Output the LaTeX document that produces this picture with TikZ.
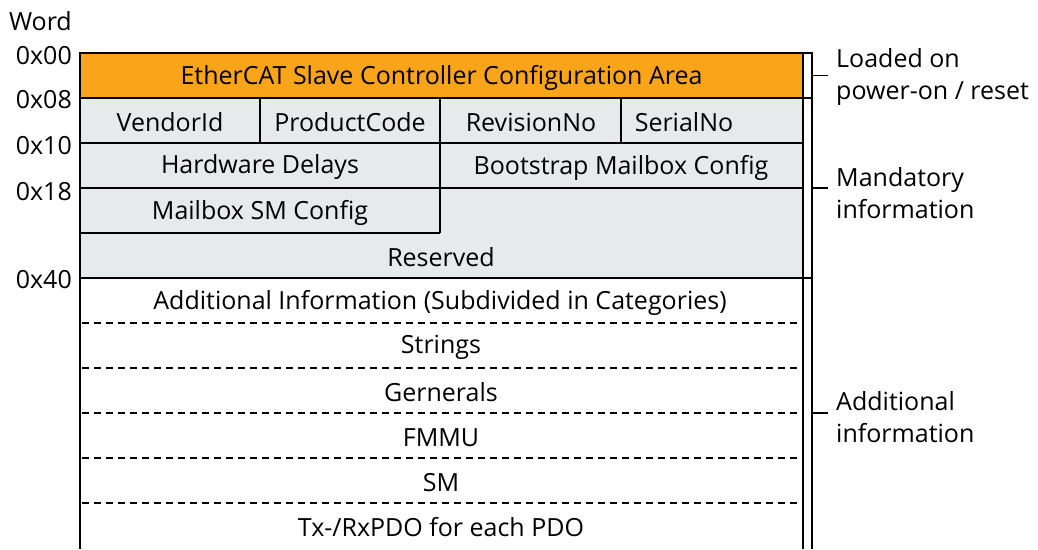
\documentclass[tikz,border=0pt]{standalone}
\usepackage{fontspec}
\setmainfont{Open Sans}
\definecolor{escorange}{RGB}{250,165,25}
\definecolor{mandgray}{RGB}{230,234,234}
\tikzset{
	lbl/.style={font=\fontsize{25}{32}\selectfont, inner sep=0pt, yshift=-2pt},
	addr/.style={lbl, anchor=east},
	side/.style={lbl, anchor=west, align=left},
	frame/.style={line width=1.6pt},
	sep/.style={line width=1.4pt, dash pattern=on 7pt off 5pt}
}
\begin{document}
\begin{tikzpicture}[x=1pt,y=-1pt]
	\useasboundingbox (0,0) rectangle (1038,549);
	
	\fill[escorange] (80,53) rectangle (803,98);
	\fill[mandgray] (80,98) rectangle (803,278);
	\draw[frame] (80,549) -- (80,53) -- (803,53) -- (803,549);
	\foreach \y in {98,143,188,278} \draw[frame] (80,\y) -- (803,\y);
	\draw[frame] (80,233) -- (440,233);
	\draw[frame] (260,98) -- (260,143);
	\draw[frame] (440,98) -- (440,233);
	\draw[frame] (621,98) -- (621,143);
	\foreach \y in {323,368,413,458,503} \draw[sep] (82,\y) -- (799,\y);
	
	\node[lbl] (esc) at (441.5,75.5) {EtherCAT Slave Controller Configuration Area};
	\node[lbl] (vendor) at (170,120.5) {VendorId};
	\node[lbl] (product) at (350,120.5) {ProductCode};
	\node[lbl] (revision) at (531,120.5) {RevisionNo};
	\node[lbl] (serial) at (684,120.5) {SerialNo};
	\node[lbl] (hwdelay) at (260,165.5) {Hardware Delays};
	\node[lbl] (bootmbx) at (621,165.5) {Bootstrap Mailbox Config};
	\node[lbl] (mbxsm) at (260,210.5) {Mailbox SM Config};
	\node[lbl] (reserved) at (441,255.5) {Reserved};
	\node[lbl] (addinfo) at (440,300.5) {Additional Information (Subdivided in Categories)};
	\node[lbl] (strings) at (441,345.5) {Strings};
	\node[lbl] (generals) at (441,390.5) {Gernerals};
	\node[lbl] (fmmu) at (441,435.5) {FMMU};
	\node[lbl] (sm) at (441,480.5) {SM};
	\node[lbl] (pdo) at (441,525.5) {Tx-/RxPDO for each PDO};
	
	\node[addr] (word) at (72,19) {Word};
	\node[addr] (a00) at (72,54) {0x00};
	\node[addr] (a08) at (72,98) {0x08};
	\node[addr] (a10) at (72,144) {0x10};
	\node[addr] (a18) at (72,190) {0x18};
	\node[addr] (a40) at (72,278) {0x40};
	
	\draw[frame] (803,53) -- (812,53) -- (812,98) -- (803,98);
	\draw[frame] (803,98) -- (812,98) -- (812,278) -- (803,278);
	\draw[frame] (803,278) -- (812,278) -- (812,549);
	\coordinate (t1) at (812,75.5);
	\coordinate (t2) at (812,188);
	\coordinate (t3) at (812,413);
	
	\node[side] (loaded) at (836,75.5) {Loaded on\\power-on / reset};
	\node[side] (mandatory) at (836,191) {Mandatory\\information};
	\node[side] (additional) at (836,415) {Additional\\information};
	\draw[frame] (t1) -- ([xshift=-8pt]loaded.west |- t1);
	\draw[frame] (t2) -- ([xshift=-8pt]mandatory.west |- t2);
	\draw[frame] (t3) -- ([xshift=-8pt]additional.west |- t3);
\end{tikzpicture}
\end{document}
